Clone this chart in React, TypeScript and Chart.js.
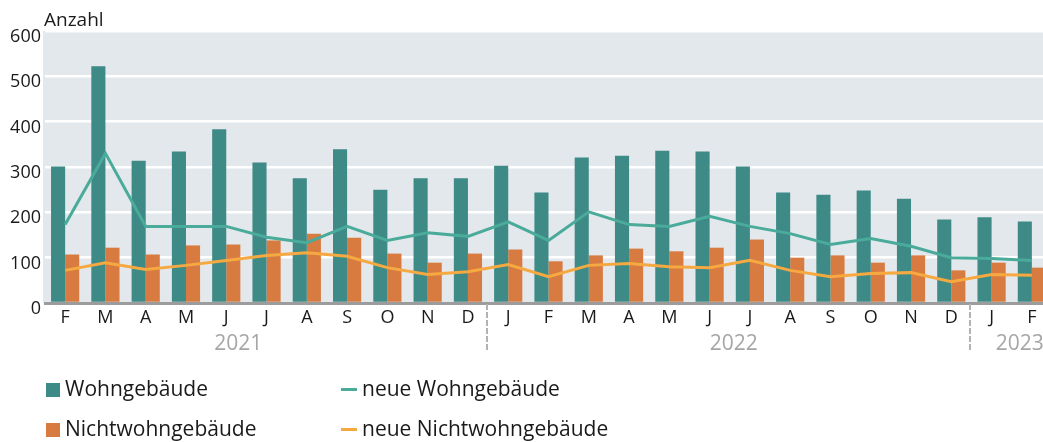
import React, { useEffect, useRef } from "react";
import { Chart, registerables } from "chart.js";

Chart.register(...registerables);

const months = ["F","M","A","M","J","J","A","S","O","N","D","J","F","M","A","M","J","J","A","S","O","N","D","J","F"];
const wohngebaeude = [301,522,314,334,383,310,275,339,250,275,275,303,244,321,325,336,334,301,244,239,248,230,184,189,180];
const nichtwohngebaeude = [107,122,107,127,129,138,153,144,109,89,109,118,92,105,120,114,122,140,100,105,89,105,72,89,78];
const neueWohngebaeude = [173,330,169,169,169,145,133,169,138,155,147,179,138,201,173,169,191,169,153,129,142,125,100,98,94];
const neueNichtwohngebaeude = [72,89,74,83,94,105,111,103,78,63,69,85,58,83,87,80,78,94,72,58,65,67,47,63,61];
const yearLabels = ["2021", "2022", "2023"];
const yearLabelIndex = [4.3, 16.6, 23.7];
const yearSeparatorIndex = [10.5, 22.5];
const yTicks = [0, 100, 200, 300, 400, 500, 600];

const FONT = "'Open Sans', 'Noto Sans', sans-serif";

const decorPlugin = {
  id: "decor",
  beforeDraw(chart: any) {
    const { ctx, chartArea } = chart;
    ctx.save();
    ctx.fillStyle = "#e3e8ec";
    ctx.fillRect(chartArea.left - 2, chartArea.top, chartArea.right - chartArea.left + 2, chartArea.bottom - chartArea.top);
    ctx.restore();
  },
  afterDraw(chart: any) {
    const { ctx, chartArea, scales } = chart;
    const x = scales.x;
    ctx.save();
    // axis unit title
    ctx.fillStyle = "#1a1a1a";
    ctx.font = `19px ${FONT}`;
    ctx.textBaseline = "alphabetic";
    ctx.textAlign = "left";
    ctx.fillText("Anzahl", chartArea.left - 1, 26);
    // year separators
    ctx.strokeStyle = "#b3b3b3";
    ctx.lineWidth = 2;
    ctx.setLineDash([6, 2]);
    yearSeparatorIndex.forEach((v) => {
      const px = Math.round(x.getPixelForValue(v)) - 1;
      ctx.beginPath();
      ctx.moveTo(px, chartArea.bottom + 1);
      ctx.lineTo(px, chartArea.bottom + 47);
      ctx.stroke();
    });
    ctx.setLineDash([]);
    // year labels
    ctx.fillStyle = "#a6a6a6";
    ctx.font = `21px ${FONT}`;
    ctx.textAlign = "center";
    yearLabels.forEach((lab, i) => {
      ctx.fillText(lab, x.getPixelForValue(yearLabelIndex[i]), chartArea.bottom + 47);
    });
    // legend
    const ds = chart.data.datasets;
    const cols = [46, 341];
    const rows = [396, 436];
    ctx.font = `21px ${FONT}`;
    ctx.textAlign = "left";
    const items = [
      { d: ds[2], c: 0, r: 0 },
      { d: ds[3], c: 0, r: 1 },
      { d: ds[0], c: 1, r: 0 },
      { d: ds[1], c: 1, r: 1 },
    ];
    items.forEach(({ d, c, r }) => {
      const lx = cols[c];
      const by = rows[r];
      if (d.type === "bar") {
        ctx.fillStyle = d.backgroundColor;
        ctx.fillRect(lx, by - 13, 14, 14);
        ctx.fillStyle = "#1a1a1a";
        ctx.fillText(d.label, lx + 19, by);
      } else {
        ctx.fillStyle = d.borderColor;
        ctx.fillRect(lx, by - 8, 16, 3);
        ctx.fillStyle = "#1a1a1a";
        ctx.fillText(d.label, lx + 21, by);
      }
    });
    ctx.restore();
  },
};

function ChartView() {
  const ref = useRef<HTMLCanvasElement>(null);
  useEffect(() => {
    if (!ref.current) return;
    const chart = new Chart(ref.current, {
      type: "bar",
      data: {
        labels: months,
        datasets: [
          {
            type: "line",
            label: "neue Wohngebäude",
            data: neueWohngebaeude,
            borderColor: "#4aab9b",
            backgroundColor: "#4aab9b",
            borderWidth: 3,
            pointRadius: 0,
            tension: 0,
            order: 0,
          } as any,
          {
            type: "line",
            label: "neue Nichtwohngebäude",
            data: neueNichtwohngebaeude,
            borderColor: "#f6a940",
            backgroundColor: "#f6a940",
            borderWidth: 3,
            pointRadius: 0,
            tension: 0,
            order: 0,
          },
          {
            type: "bar",
            label: "Wohngebäude",
            data: wohngebaeude,
            backgroundColor: "#3d8a86",
            categoryPercentage: 0.7,
            barPercentage: 1.0,
            order: 1,
          },
          {
            type: "bar",
            label: "Nichtwohngebäude",
            data: nichtwohngebaeude,
            backgroundColor: "#d87b40",
            categoryPercentage: 0.7,
            barPercentage: 1.0,
            order: 1,
          },
        ],
      },
      options: {
        animation: false,
        responsive: false,
        maintainAspectRatio: false,
        layout: { padding: { top: 31, right: 0, bottom: 0, left: 0 } },
        plugins: { legend: { display: false }, tooltip: { enabled: false } },
        scales: {
          x: {
            grid: { display: false, drawTicks: false },
            border: { display: true, color: "#9c9c9c", width: 3, z: 1 },
            ticks: { color: "#1a1a1a", font: { family: FONT, size: 18 }, padding: 4, maxRotation: 0, autoSkip: false },
            afterFit(scale: any) { scale.height = 139; },
          },
          y: {
            min: 0,
            max: 600,
            afterBuildTicks(scale: any) { scale.ticks = yTicks.map((v) => ({ value: v })); },
            grid: {
              drawTicks: false,
              color: (c: any) => (c.tick && c.tick.value === 0 ? "rgba(0,0,0,0)" : "#ffffff"),
              lineWidth: 2.5,
            },
            border: { display: false },
            ticks: { color: "#1a1a1a", font: { family: FONT, size: 18 }, padding: 4, labelOffset: 6 },
            afterFit(scale: any) { scale.width = 45; },
          },
        },
      },
      plugins: [decorPlugin],
    });
    return () => chart.destroy();
  }, []);
  return <canvas ref={ref} width={1052} height={442} style={{ display: "block", width: 1052, height: 442 }} />;
}

export default function App() {
  return (
    <div style={{ position: "fixed", left: 0, top: 0, width: 1043, height: 442, overflow: "hidden", background: "#fff" }}>
      <ChartView />
    </div>
  );
}
